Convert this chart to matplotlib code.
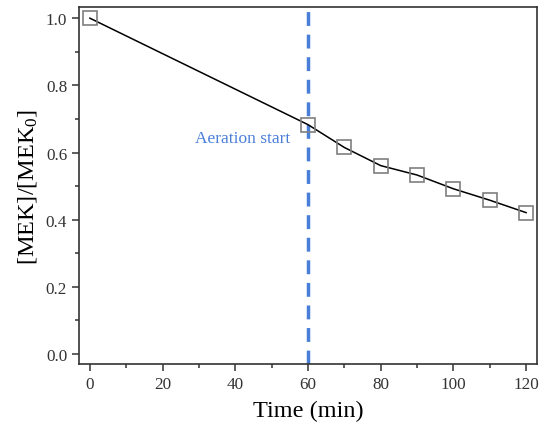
import matplotlib
matplotlib.use("Agg")
import matplotlib.pyplot as plt
from matplotlib.ticker import MultipleLocator, FormatStrFormatter

plt.rcParams['font.family'] = ['Liberation Serif', 'DejaVu Serif']
plt.rcParams['mathtext.fontset'] = 'custom'
plt.rcParams['mathtext.rm'] = 'Liberation Serif'
plt.rcParams['mathtext.it'] = 'Liberation Serif'

time = [0, 60, 70, 80, 90, 100, 110, 120]
ratio = [1.0, 0.683, 0.615, 0.561, 0.533, 0.492, 0.458, 0.421]
aeration_time = 60
aeration_label = 'Aeration start'

fig = plt.figure(figsize=(5.43, 4.27), dpi=100)
ax = fig.add_axes([0.1455, 0.145, 0.8435, 0.836])

ax.plot(time, ratio, color='black', lw=1.1, zorder=2)
ax.plot(time, ratio, ls='none', marker='s', ms=10, mfc='none', mec='#7f7f7f', mew=1.2, zorder=3)
ax.axvline(aeration_time, color='#4a7fd9', lw=2.5, ls=(0, (4, 2.5)), zorder=1)
ax.text(42.1, 0.643, aeration_label, color='#4a7fd9', fontsize=12.5, ha='center', va='center')

ax.set_xlim(-3, 123)
ax.set_ylim(-0.03, 1.033)
ax.xaxis.set_major_locator(MultipleLocator(20))
ax.xaxis.set_minor_locator(MultipleLocator(10))
ax.yaxis.set_major_locator(MultipleLocator(0.2))
ax.yaxis.set_minor_locator(MultipleLocator(0.1))
ax.yaxis.set_major_formatter(FormatStrFormatter('%.1f'))
ax.tick_params(which='both', direction='out', width=1.1, labelsize=12.3, colors='#333333', labelcolor='#333333')
ax.tick_params(which='major', length=5)
ax.tick_params(which='minor', length=3)
for s in ax.spines.values():
    s.set_linewidth(1.2)
    s.set_color('#333333')

ax.set_xlabel('Time (min)', fontsize=17.5, labelpad=6)
ax.set_ylabel(r'[MEK]/[MEK$_{\mathregular{0}}$]', fontsize=17.5, labelpad=5)

fig.savefig('out.png', dpi=100)
